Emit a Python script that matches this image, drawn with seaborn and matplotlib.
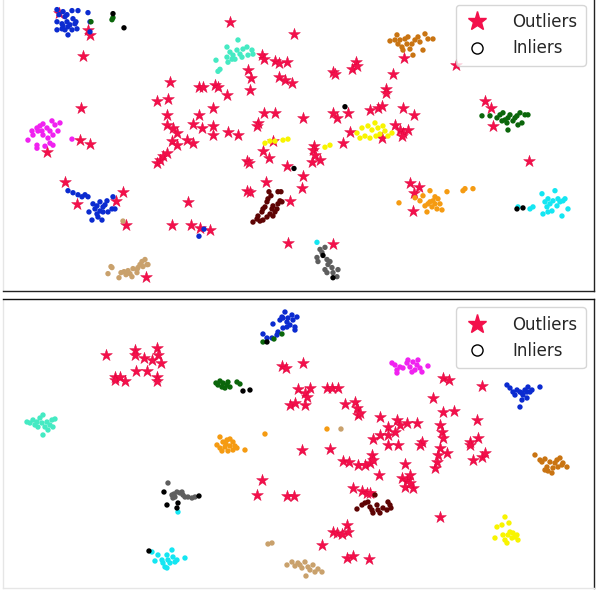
import pandas as pd
import matplotlib.pyplot as plt
import seaborn as sns
from matplotlib.lines import Line2D

# ---------------- top panel data (picture coordinates) ----------------
top_blue = [(57, 13), (63, 15), (67, 18), (72, 14), (78, 14), (88, 16), (57, 25), (62, 27), (67, 25),
            (70, 28), (75, 27), (77, 32), (65, 33), (68, 38), (57, 33), (62, 32), (72, 33), (90, 25),
            (90, 35), (59, 18), (65, 20), (73, 22), (76, 25), (68, 30), (63, 29),
            (68, 192), (73, 194), (78, 196), (82, 198), (85, 196), (88, 198), (93, 205), (97, 207),
            (100, 203), (103, 208), (107, 202), (108, 213), (112, 210), (113, 198), (115, 210),
            (100, 212), (97, 215), (92, 221), (98, 218), (102, 221), (89, 213), (95, 210), (103, 213),
            (105, 206), (199, 237), (204, 230)]
top_darkgreen = [(112, 23), (113, 21), (91, 25), (482, 118), (490, 118), (497, 120), (500, 117),
                 (503, 115), (505, 122), (508, 120), (510, 117), (513, 123), (517, 118), (520, 115),
                 (522, 125), (525, 117), (528, 117), (508, 132), (502, 123), (507, 125), (515, 120),
                 (518, 127)]
top_aqua = [(216, 63), (218, 74), (220, 72), (227, 60), (228, 65), (230, 55), (233, 58), (237, 53),
            (238, 43), (240, 57), (243, 52), (247, 50), (248, 58), (252, 53), (253, 57), (232, 62),
            (235, 62), (242, 60), (227, 50)]
top_magenta = [(28, 142), (32, 133), (33, 137), (37, 130), (38, 133), (40, 128), (43, 126), (47, 130),
               (50, 133), (52, 123), (55, 127), (60, 125), (58, 133), (53, 137), (48, 140), (43, 137),
               (42, 133), (50, 145), (53, 147), (37, 147), (45, 148), (72, 141), (37, 150)]
top_yellow = [(357, 135), (362, 130), (368, 128), (372, 132), (375, 125), (378, 130), (380, 136),
              (385, 133), (388, 138), (365, 138), (370, 140), (392, 135), (360, 140), (376, 138),
              (383, 128), (265, 145), (270, 143), (275, 143), (283, 142), (288, 141), (325, 149),
              (330, 147)]
top_chocolate = [(390, 44), (395, 43), (397, 38), (400, 43), (402, 50), (403, 53), (407, 47), (408, 40),
                 (410, 52), (413, 58), (415, 43), (418, 40), (420, 45), (423, 53), (425, 37), (428, 42),
                 (433, 42), (398, 47), (405, 42), (412, 47)]
top_orange = [(399, 204), (415, 199), (420, 202), (423, 197), (425, 207), (427, 213), (430, 192),
              (430, 203), (432, 208), (433, 202), (435, 205), (437, 210), (435, 198), (438, 200),
              (440, 205), (442, 211), (447, 193), (465, 190), (463, 192), (473, 190), (428, 205)]
top_cyan = [(518, 208), (530, 210), (533, 208), (542, 195), (543, 215), (545, 203), (547, 208),
            (548, 200), (550, 205), (552, 212), (553, 202), (555, 192), (557, 207), (558, 200),
            (560, 203), (563, 202), (565, 200), (562, 217), (568, 210), (548, 213), (317, 243)]
top_gray = [(317, 258), (318, 262), (320, 250), (325, 248), (327, 260), (328, 265), (330, 262),
            (325, 270), (327, 273), (332, 268), (333, 273), (337, 277), (338, 270), (322, 253)]
top_maroon = [(253, 223), (257, 220), (258, 217), (262, 213), (263, 210), (265, 208), (267, 203),
              (268, 200), (269, 193), (271, 197), (272, 210), (273, 217), (275, 213), (277, 210),
              (278, 205), (280, 202), (282, 203), (278, 193), (281, 193), (260, 222), (263, 221),
              (267, 218), (270, 215), (273, 207)]
top_tan = [(108, 274), (111, 267), (112, 268), (119, 278), (121, 273), (124, 272), (126, 275),
           (128, 271), (132, 277), (133, 269), (137, 273), (138, 268), (140, 265), (142, 262),
           (143, 267), (145, 260), (147, 265), (148, 265), (137, 270), (130, 274), (123, 222)]
top_black = [(113, 17), (124, 31), (345, 109), (294, 170), (517, 210), (523, 209), (323, 256),
             (333, 278)]
top_outliers = [(59, 16), (88, 33), (90, 38), (83, 59), (230, 25), (294, 37), (81, 110), (80, 142),
                (90, 146), (170, 85), (157, 103), (168, 101), (167, 117), (167, 127), (173, 130),
                (177, 135), (172, 143), (177, 147), (187, 142), (193, 145), (199, 89), (203, 89),
                (215, 88), (218, 89), (227, 97), (213, 110), (199, 117), (193, 126), (202, 130),
                (213, 128), (213, 137), (228, 134), (238, 137), (250, 92), (248, 73), (251, 81),
                (262, 58), (264, 62), (275, 64), (279, 66), (287, 65), (279, 80), (285, 83), (292, 86),
                (264, 115), (275, 115), (258, 125), (257, 128), (273, 143), (404, 61), (456, 68),
                (333, 75), (335, 77), (352, 72), (356, 65), (357, 69), (393, 77), (386, 91), (386, 95),
                (303, 120), (333, 115), (337, 120), (348, 115), (370, 112), (378, 110), (382, 108),
                (403, 110), (414, 117), (350, 134), (343, 145), (314, 148), (382, 140), (395, 127),
                (400, 132), (403, 135), (408, 132), (402, 138), (485, 103), (491, 110), (493, 128),
                (47, 154), (65, 183), (77, 205), (123, 193), (116, 202), (126, 226), (188, 203),
                (172, 226), (191, 226), (200, 229), (210, 231), (247, 163), (249, 165), (263, 153),
                (269, 160), (287, 168), (266, 183), (247, 192), (250, 193), (290, 202), (288, 244),
                (146, 277), (157, 165), (160, 162), (163, 158), (167, 155), (313, 152), (315, 157),
                (312, 164), (320, 162), (303, 177), (302, 189), (529, 163), (410, 184), (419, 188),
                (414, 194), (413, 212), (333, 245)]

# ---------------- bottom panel data ----------------
bot_blue = [(263, 334), (267, 338), (272, 338), (273, 324), (277, 335), (278, 332), (280, 320),
            (282, 317), (283, 328), (285, 312), (287, 322), (288, 318), (290, 325), (292, 315),
            (293, 320), (295, 327), (297, 317), (295, 330), (283, 318), (287, 327),
            (507, 385), (510, 388), (513, 392), (515, 395), (517, 390), (520, 392), (520, 407),
            (522, 400), (523, 395), (525, 390), (527, 392), (528, 387), (530, 392), (532, 390),
            (540, 387), (527, 398), (522, 393)]
bot_darkgreen = [(263, 342), (274, 339), (282, 334), (216, 383), (218, 385), (220, 381), (222, 387),
                 (223, 383), (225, 388), (227, 385), (228, 382), (230, 387), (237, 382), (240, 384)]
bot_aqua = [(27, 422), (30, 423), (33, 420), (35, 425), (37, 422), (40, 418), (42, 423), (43, 415),
            (45, 427), (47, 422), (48, 430), (50, 425), (52, 420), (53, 427), (55, 419), (43, 435),
            (38, 427)]
bot_magenta = [(392, 363), (395, 365), (397, 370), (400, 367), (403, 368), (407, 363), (408, 360),
               (410, 367), (413, 362), (415, 370), (417, 365), (418, 360), (420, 368), (422, 372),
               (428, 366), (397, 373), (412, 372)]
bot_orange = [(220, 437), (223, 442), (227, 440), (230, 439), (233, 442), (217, 445), (220, 448),
              (225, 447), (230, 446), (235, 446), (222, 451), (228, 451), (233, 450), (226, 444),
              (237, 448), (245, 450), (265, 434), (327, 429)]
bot_gray = [(168, 483), (172, 495), (174, 494), (175, 497), (177, 492), (180, 493), (182, 492),
            (183, 495), (185, 497), (188, 497), (192, 498), (195, 497), (173, 498)]
bot_cyan = [(152, 552), (155, 561), (158, 555), (162, 560), (163, 563), (165, 567), (167, 555),
            (168, 560), (170, 563), (172, 550), (173, 557), (175, 562), (177, 560), (185, 558),
            (167, 568), (178, 512)]
bot_maroon = [(357, 509), (362, 505), (365, 503), (368, 502), (370, 507), (372, 510), (373, 513),
              (375, 495), (377, 505), (378, 510), (380, 513), (383, 508), (387, 510), (388, 502),
              (390, 505), (391, 508)]
bot_chocolate = [(535, 455), (540, 460), (542, 462), (545, 470), (547, 467), (548, 471), (552, 473),
                 (553, 468), (555, 463), (557, 460), (558, 467), (560, 458), (562, 465), (563, 463),
                 (567, 467), (550, 462), (545, 459)]
bot_yellow = [(495, 538), (497, 527), (502, 525), (505, 517), (503, 535), (505, 540), (507, 543),
              (508, 535), (509, 523), (510, 532), (512, 538), (513, 533), (515, 537), (517, 535),
              (518, 540)]
bot_tan = [(341, 429), (268, 544), (272, 543), (287, 565), (292, 562), (295, 566), (298, 563),
           (300, 565), (302, 568), (305, 562), (308, 567), (310, 570), (313, 565), (315, 572),
           (318, 569), (306, 576), (322, 572)]
bot_black = [(243, 391), (250, 390), (164, 492), (199, 496), (167, 505), (177, 508), (178, 503),
             (149, 551), (267, 342)]
bot_outliers = [(106, 355), (135, 350), (135, 355), (144, 358), (152, 360), (157, 348), (158, 355),
                (161, 363), (115, 377), (115, 380), (120, 377), (125, 381), (136, 371), (147, 371),
                (157, 377), (157, 381), (282, 366), (286, 368), (298, 389), (290, 405), (295, 403),
                (303, 363), (443, 378), (449, 380), (482, 386), (433, 398), (327, 388), (332, 388),
                (338, 388), (310, 388), (305, 393), (307, 397), (305, 405), (345, 404), (355, 402),
                (357, 408), (358, 415), (360, 413), (380, 417), (388, 427), (397, 420), (400, 425),
                (407, 423), (417, 423), (373, 439), (380, 435), (388, 435), (395, 432), (443, 412),
                (454, 411), (440, 425), (442, 432), (443, 438), (477, 420), (478, 438), (470, 442),
                (422, 442), (302, 450), (330, 449), (343, 461), (349, 462), (358, 465), (365, 465),
                (370, 463), (372, 455), (373, 460), (379, 475), (388, 445), (398, 445), (420, 445),
                (435, 468), (437, 462), (438, 455), (440, 448), (447, 453), (405, 464), (402, 478),
                (407, 480), (410, 475), (405, 487), (413, 488), (410, 483), (473, 460), (482, 457),
                (485, 453), (470, 445), (353, 488), (362, 491), (367, 493), (370, 493), (440, 517),
                (347, 525), (333, 532), (337, 533), (342, 534), (348, 532), (322, 545), (347, 558),
                (353, 556), (369, 559), (262, 480), (257, 495), (287, 496), (294, 496)]

palette = {
    "blue": "#0b2bd0", "darkgreen": "#0b660b", "aqua": "#45eac3", "magenta": "#f022f0",
    "chocolate": "#c97412", "yellow": "#f8f400", "orange": "#f59b12", "cyan": "#14e6f2",
    "gray": "#5e5e5e", "maroon": "#5e0404", "tan": "#c9a16c", "black": "#000000",
}

top_clusters = {"blue": top_blue, "darkgreen": top_darkgreen, "aqua": top_aqua,
                "magenta": top_magenta, "yellow": top_yellow, "chocolate": top_chocolate,
                "orange": top_orange, "cyan": top_cyan, "gray": top_gray, "maroon": top_maroon,
                "tan": top_tan, "black": top_black}
bot_clusters = {"blue": bot_blue, "darkgreen": bot_darkgreen, "aqua": bot_aqua,
                "magenta": bot_magenta, "orange": bot_orange, "gray": bot_gray, "cyan": bot_cyan,
                "maroon": bot_maroon, "chocolate": bot_chocolate, "yellow": bot_yellow,
                "tan": bot_tan, "black": bot_black}


def to_frame(clusters):
    rows = []
    for name, pts in clusters.items():
        for x, y in pts:
            rows.append({"x": x, "y": y, "cluster": name})
    return pd.DataFrame(rows)


sns.set_style("white")
fig = plt.figure(figsize=(5.96, 5.90), dpi=100)
ax_top = fig.add_axes([0.005, 0.507, 0.9916, 0.499])
ax_bot = fig.add_axes([0.005, 0.0034, 0.9916, 0.4898])

panels = [(ax_top, top_clusters, top_outliers, (0, 291)),
          (ax_bot, bot_clusters, bot_outliers, (299, 588))]

for ax, clusters, outliers, (y0, y1) in panels:
    df = to_frame(clusters)
    out = pd.DataFrame(outliers, columns=["x", "y"])
    sns.scatterplot(data=out, x="x", y="y", ax=ax, marker="*", s=80, color="#f3104b",
                    edgecolor="#e0003a", linewidth=0.3, legend=False, zorder=2)
    sns.scatterplot(data=df, x="x", y="y", hue="cluster", palette=palette, ax=ax, s=15,
                    edgecolor="none", legend=False, zorder=3)
    ax.set_xlim(3, 594)
    ax.set_ylim(y1, y0)
    ax.set_xticks([])
    ax.set_yticks([])
    ax.set_xlabel("")
    ax.set_ylabel("")
    for side in ["left", "top", "right", "bottom"]:
        ax.spines[side].set_visible(True)
        ax.spines[side].set_color("#e6e6e6")
        ax.spines[side].set_linewidth(1.0)
    ax.spines["right"].set_color("#222222")
    handles = [
        Line2D([], [], marker="*", linestyle="none", markersize=14, color="#f3104b"),
        Line2D([], [], marker="o", linestyle="none", markersize=8, markerfacecolor="white",
               markeredgecolor="black"),
    ]
    ax.legend(handles, ["Outliers", "Inliers"], loc="upper right", fontsize=12,
              frameon=True, borderpad=0.5, handlelength=1.6, handletextpad=1.3,
              labelspacing=0.5)

ax_top.spines["bottom"].set_color("#222222")
ax_bot.spines["top"].set_color("#111111")

fig.savefig("out.png", dpi=100)
